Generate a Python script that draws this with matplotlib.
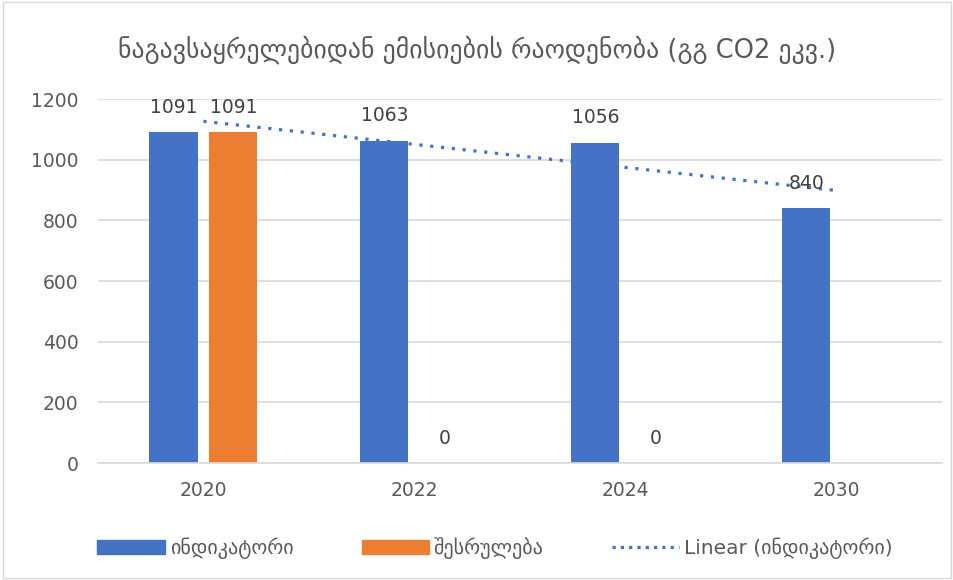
import numpy as np
import matplotlib.pyplot as plt
from matplotlib.lines import Line2D
from matplotlib.patches import Patch

# chart data
years = ['2020', '2022', '2024', '2030']
indicator = [1091, 1063, 1056, 840]
performance = [1091, 0, 0, None]

title = 'ნაგავსაყრელებიდან ემისიების რაოდენობა (გგ CO2 ეკვ.)'
name_ind = 'ინდიკატორი'
name_perf = 'შესრულება'

blue = '#4472C4'
orange = '#ED7D31'
text_col = '#595959'

plt.rcParams['font.family'] = ['DejaVu Sans']

fig = plt.figure(figsize=(9.54, 5.8), dpi=100)
ax = fig.add_axes([0.1027, 0.2017, 0.8843, 0.6276])

x = np.arange(len(years))
w = 0.228
off = 0.142


def label(xp, v):
    ax.annotate(str(v), (xp, v), xytext=(0, 18), textcoords='offset points',
                ha='center', va='center', fontsize=13.5, color='#404040', zorder=4)


ax.bar(x - off, indicator, w, color=blue, zorder=2)
for xi, v in zip(x, indicator):
    label(xi - off, v)

for xi, v in zip(x, performance):
    if v is None:
        continue
    ax.bar(xi + off, v, w, color=orange, zorder=2)
    label(xi + off, v)

# linear trendline on the indicator series
k, b = np.polyfit(x, indicator, 1)
ax.plot(x, k * x + b, color=blue, linestyle=(0, (1, 2.4)), linewidth=2.3, zorder=3)

ax.set_xlim(-0.5, len(years) - 0.5)
ax.set_ylim(0, 1200)
ax.set_yticks(range(0, 1201, 200))
ax.set_xticks(x)
ax.set_xticklabels(years)
ax.tick_params(axis='both', length=0, labelsize=13.5, colors=text_col)
ax.tick_params(axis='y', pad=14)
ax.tick_params(axis='x', pad=13)
ax.grid(axis='y', color='#D9D9D9', linewidth=1.2, zorder=0)
for s in ['top', 'right', 'left']:
    ax.spines[s].set_visible(False)
ax.spines['bottom'].set_color('#D9D9D9')
ax.spines['bottom'].set_linewidth(1.2)

fig.text(0.5, 0.915, title, ha='center', va='center', fontsize=18.5, color=text_col)

handles = [Patch(color=blue), Patch(color=orange),
           Line2D([0], [0], color=blue, linestyle=(0, (1, 1.6)), linewidth=2.3)]
labels = [name_ind, name_perf, 'Linear (' + name_ind + ')']
fig.legend(handles, labels, loc='center', bbox_to_anchor=(0.519, 0.055), ncol=3,
           frameon=False, fontsize=14.5, labelcolor=text_col, handlelength=3.33,
           handleheight=0.65, handletextpad=0.25, columnspacing=3.4)

border = plt.Rectangle((0.003, 0.003), 0.994, 0.994, transform=fig.transFigure,
                       fill=False, edgecolor='#D9D9D9', linewidth=1)
fig.add_artist(border)

fig.savefig('out.png', dpi=100)
